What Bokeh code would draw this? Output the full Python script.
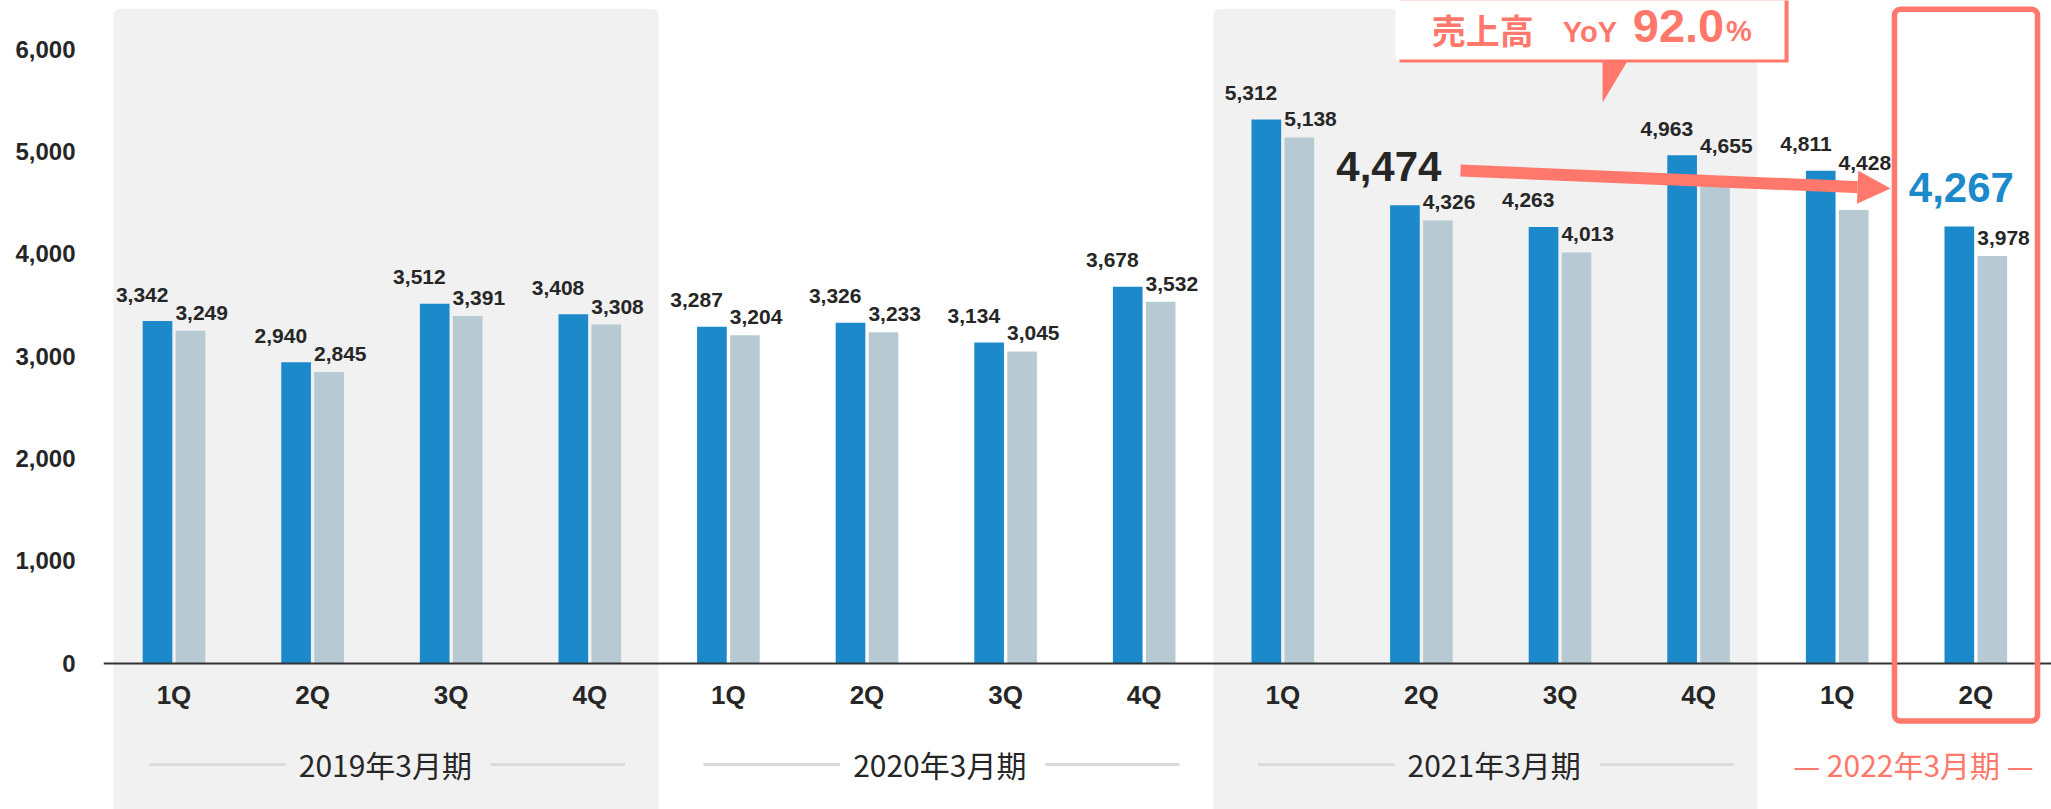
from bokeh.plotting import figure
from bokeh.models import (Range1d, FixedTicker, NumeralTickFormatter, BoxAnnotation,
                          Arrow, NormalHead, ColumnDataSource)
from bokeh.core.properties import value
from bokeh.embed import file_html
from bokeh.resources import INLINE

# ---------------- data ----------------
quarters = ["1Q", "2Q", "3Q", "4Q", "1Q", "2Q", "3Q", "4Q",
            "1Q", "2Q", "3Q", "4Q", "1Q", "2Q"]
fiscal_years = ["2019年3月期", "2020年3月期", "2021年3月期", "2022年3月期"]
year_sizes = [4, 4, 4, 2]
sales = [3342, 2940, 3512, 3408, 3287, 3326, 3134, 3678,
         5312, 4474, 4263, 4963, 4811, 4267]
sales_b = [3249, 2845, 3391, 3308, 3204, 3233, 3045, 3532,
           5138, 4326, 4013, 4655, 4428, 3978]
y_ticks = [0, 1000, 2000, 3000, 4000, 5000, 6000]
compare_from = 9      # 2021年3月期 2Q
compare_to = 13       # 2022年3月期 2Q
callout_parts = ["売上高", "YoY", "92.0", "%"]

# ---------------- style ----------------
BLUE = "#1b89ca"
GREY = "#b7cad4"
SHADE = "#f1f1f1"
SALMON = "#ff786b"
INK = "#262626"
NUM = "Liberation Sans"
JP = "Noto Sans CJK JP"

n = len(quarters)
xs = list(range(n))

p = figure(width=2051, height=809,
           x_range=Range1d(-0.5087, 13.546), y_range=Range1d(-1432, 6476),
           output_backend="svg", toolbar_location=None, tools="",
           min_border_left=103, min_border_right=0, min_border_top=0,
           min_border_bottom=0, outline_line_color=None,
           background_fill_color="white", border_fill_color="white")
p.grid.visible = False

# shaded fiscal-year backgrounds (1st and 3rd year)
starts = [sum(year_sizes[:k]) for k in range(len(year_sizes))]
shade_pads = {0: (0.437, 0.496), 2: (0.50, 0.425)}
for k, (lp, rp) in shade_pads.items():
    s = starts[k]
    e = s + year_sizes[k] - 1
    p.add_layout(BoxAnnotation(left=s - lp, right=e + rp, top=6393, bottom=-3000,
                               fill_color=SHADE, fill_alpha=1.0, line_color=None,
                               border_radius=6, level="underlay"))

# bars
off = 0.119
w = 0.214
p.vbar(x=[i - off for i in xs], top=sales, width=w, bottom=0,
       fill_color=BLUE, line_color=None)
p.vbar(x=[i + off for i in xs], top=sales_b, width=w, bottom=0,
       fill_color=GREY, line_color=None)

# value labels
big = {compare_from, compare_to}
bsrc = ColumnDataSource(dict(
    x=[i - 0.04 for i in xs if i not in big],
    y=[sales[i] for i in xs if i not in big],
    t=[f"{sales[i]:,}" for i in xs if i not in big]))
p.text(x="x", y="y", text="t", source=bsrc, text_align="right",
       text_baseline="middle", y_offset=-26.5, text_font=value(NUM),
       text_font_style="bold", text_font_size="21px", text_color=INK)
# grey labels; the two under the arrow are lifted above it
lift = {11: -41, 12: -47.5}
gsrc = ColumnDataSource(dict(
    x=[i + 0.01 for i in xs], y=sales_b, t=[f"{v:,}" for v in sales_b],
    dy=[lift.get(i, -18) for i in xs]))
p.text(x="x", y="y", text="t", source=gsrc, text_align="left",
       text_baseline="middle", y_offset="dy", text_font=value(NUM),
       text_font_style="bold", text_font_size="21px", text_color=INK)

# highlighted labels
p.text(x=[compare_from + 0.144], y=[sales[compare_from]], text=[f"{sales[compare_from]:,}"],
       text_align="right", text_baseline="middle", y_offset=-38.5,
       text_font=value(NUM), text_font_style="bold", text_font_size="42px",
       text_color=INK)
p.text(x=[compare_to + 0.275], y=[sales[compare_to]], text=[f"{sales[compare_to]:,}"],
       text_align="right", text_baseline="middle", y_offset=-38.5,
       text_font=value(NUM), text_font_style="bold", text_font_size="42px",
       text_color=BLUE)

# arrow between the two highlighted values
p.add_layout(Arrow(end=NormalHead(size=33, fill_color=SALMON, line_color=SALMON, line_width=0),
                   x_start=compare_from + 0.282, y_start=sales[compare_from] + 340,
                   x_end=compare_to - 0.615, y_end=sales[compare_to] + 371,
                   line_color=SALMON, line_width=12))

# callout box with shadow and pointer
p.quad(left=[8.842], right=[11.649], top=[7000], bottom=[5870],
       fill_color=SALMON, line_color=None)
p.quad(left=[8.813], right=[11.620], top=[7000], bottom=[5899],
       fill_color="white", line_color=None)
p.patch(x=[10.307, 10.487, 10.307], y=[5885, 5885, 5479],
        fill_color=SALMON, line_color=None)
p.text(x=[9.075], y=[6193], text=[callout_parts[0]], text_align="left",
       text_baseline="middle", text_font=value(JP), text_font_style="bold",
       text_font_size="34px", text_color=SALMON)
p.text(x=[10.02], y=[6168], text=[callout_parts[1]], text_align="left",
       text_baseline="middle", text_font=value(NUM), text_font_style="bold",
       text_font_size="29px", text_color=SALMON)
p.text(x=[10.525], y=[6227], text=[callout_parts[2]], text_align="left",
       text_baseline="middle", text_font=value(NUM), text_font_style="bold",
       text_font_size="47px", text_color=SALMON)
p.text(x=[11.198], y=[6173], text=[callout_parts[3]], text_align="left",
       text_baseline="middle", text_font=value(NUM), text_font_style="bold",
       text_font_size="29px", text_color=SALMON)

# red frame round the latest quarter
p.add_layout(BoxAnnotation(left=compare_to - 0.587, right=compare_to + 0.445,
                           top=6391, bottom=-567, fill_alpha=0, fill_color=None,
                           line_color=SALMON, line_alpha=1.0, line_width=5.5,
                           border_radius=6))

# fiscal year labels with side rules
gx, gt, gc = [], [], []
seg_x0, seg_x1 = [], []
for k, name in enumerate(fiscal_years):
    s = starts[k]
    c = s + (year_sizes[k] - 1) / 2
    if k < len(fiscal_years) - 1:
        gx.append(c + 0.025)
        gt.append(name)
        gc.append(INK)
        seg_x0 += [c - 1.68, c + 0.786]
        seg_x1 += [c - 0.695, c + 1.753]
    else:
        gx.append(c + 0.05)
        gt.append("— " + name + " —")
        gc.append(SALMON)
p.segment(x0=seg_x0, x1=seg_x1, y0=[-992] * len(seg_x0), y1=[-992] * len(seg_x0),
          line_color="#dadada", line_width=3)
p.text(x=gx, y=[-992] * len(gx), text=gt, text_color=gc, text_align="center",
       text_baseline="middle", text_font=value(JP), text_font_size="30px")

# axes
xa = p.xaxis[0]
xa.fixed_location = 0
xa.ticker = FixedTicker(ticks=xs)
xa.major_label_overrides = {i: q for i, q in enumerate(quarters)}
xa.major_label_text_font = NUM
xa.major_label_text_font_style = "bold"
xa.major_label_text_font_size = "26px"
xa.major_label_text_color = INK
xa.major_label_standoff = 11
xa.major_tick_line_color = None
xa.minor_tick_line_color = None
xa.axis_line_color = "#333333"
xa.axis_line_width = 2

ya = p.yaxis[0]
ya.ticker = FixedTicker(ticks=y_ticks)
ya.formatter = NumeralTickFormatter(format="0,0")
ya.major_label_text_font = NUM
ya.major_label_text_font_style = "bold"
ya.major_label_text_font_size = "24px"
ya.major_label_text_color = INK
ya.major_label_standoff = 22
ya.major_tick_line_color = None
ya.minor_tick_line_color = None
ya.axis_line_color = None

open("out.html", "w").write(file_html(p, INLINE))
